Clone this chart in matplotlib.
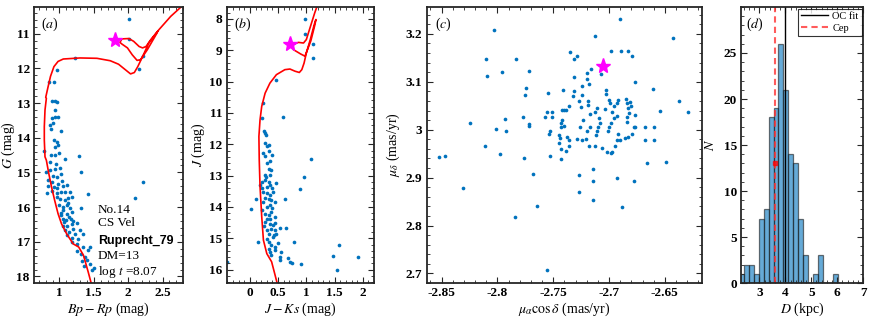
import matplotlib
matplotlib.use("Agg")
import matplotlib.pyplot as plt
from matplotlib.ticker import AutoMinorLocator

plt.rcParams['font.family'] = ['Liberation Serif', 'DejaVu Serif']
plt.rcParams['mathtext.fontset'] = 'stix'

# ---- panel (a): Gaia CMD ----
a_x = [2.016, 2.016, 2.21, 1.22, 2.16, 0.96, 0.85, 0.92, 0.89, 0.93, 0.97, 0.94,
       0.885, 0.934, 0.983, 0.87, 0.90, 0.875, 1.022, 0.92, 0.958, 0.983, 0.934, 0.777,
       0.875, 0.934, 0.997, 1.08, 1.29, 0.81, 0.87, 0.934, 1.007, 1.31, 0.836, 0.90,
       0.958, 1.03, 0.836, 0.92, 0.983, 1.056, 1.105, 0.82, 0.885, 0.958, 1.03, 1.08,
       1.154, 0.958, 1.007, 1.08, 1.13, 1.18, 1.423, 2.21, 2.10, 0.998, 1.056, 1.105,
       1.154, 1.03, 1.056, 1.115, 1.18, 1.31, 1.056, 1.095, 1.145, 1.20, 1.056, 1.115,
       1.18, 1.25, 1.08, 1.145, 1.20, 1.30, 1.115, 1.18, 1.277, 1.35, 1.18, 1.25,
       1.35, 1.438, 1.25, 1.31, 1.374, 1.423, 1.325, 1.40, 1.448, 1.36, 1.472, 1.497,
       0.86, 0.95, 1.04, 0.89, 1.12, 1.02, 1.17, 1.22, 1.06, 0.97]
a_y = [10.58, 11.15, 11.64, 11.71, 12.01, 12.06, 12.39, 12.39, 12.94, 12.94, 12.97, 13.20,
       13.44, 13.39, 13.41, 13.63, 13.58, 13.76, 13.80, 14.07, 14.11, 14.21, 14.26, 14.37,
       14.50, 14.50, 14.45, 14.60, 14.53, 14.98, 14.93, 14.91, 14.86, 14.98, 15.21, 15.11,
       15.13, 15.05, 15.40, 15.42, 15.32, 15.40, 15.37, 15.59, 15.54, 15.59, 15.56, 15.56,
       15.56, 15.71, 15.78, 15.80, 15.73, 15.71, 15.61, 15.29, 15.73, 15.95, 16.00, 15.93,
       16.02, 16.17, 16.09, 16.21, 16.14, 16.02, 16.33, 16.38, 16.28, 16.40, 16.53, 16.55,
       16.50, 16.46, 16.67, 16.72, 16.63, 16.67, 16.81, 16.88, 16.91, 16.77, 17.00, 17.05,
       17.15, 17.15, 17.27, 17.34, 17.44, 17.25, 17.54, 17.52, 17.63, 17.71, 17.81, 17.75,
       14.70, 14.75, 15.25, 15.27, 15.88, 16.22, 16.33, 16.77, 16.42, 15.45]

iso_a_x = [1.47, 1.42, 1.35, 1.28, 1.20, 1.105, 1.03, 0.98, 0.93, 0.885, 0.845, 0.81,
           0.79, 0.78, 0.78, 0.79, 0.81, 0.80, 0.836, 0.87, 0.92, 0.98, 1.056, 1.30,
           1.546, 1.74, 1.86, 1.96, 2.035, 2.09, 2.14, 2.21, 2.30, 2.43,
           2.42, 2.28, 2.18, 2.13, 2.06, 1.99, 1.91, 1.88,
           1.91, 2.01, 2.08, 2.16, 2.21, 2.26, 2.33, 2.45, 2.62, 2.77, 2.84]
iso_a_y = [18.25, 17.88, 17.39, 17.15, 17.06, 16.77, 16.48, 16.19, 15.80, 15.42, 15.03, 14.65,
           14.55, 14.07, 13.68, 13.20, 12.86, 12.84, 12.52, 12.23, 11.95, 11.80, 11.73, 11.70,
           11.71, 11.78, 11.88, 12.04, 12.16, 12.12, 11.95, 11.66, 11.27, 10.93,
           10.98, 11.46, 11.75, 11.77, 11.61, 11.41, 11.30, 11.25,
           11.15, 11.14, 11.22, 11.37, 11.41, 11.37, 11.17, 10.88, 10.50, 10.23, 10.12]
star_a = (1.815, 11.17)

# ---- panel (b): 2MASS CMD ----
b_x = [0.98, 0.97, 1.12, 1.11, 0.46, 0.24, 0.59, 0.21, 0.25, 0.27, 0.28, 0.27, 0.33, 0.30,
       0.24, 0.33, 0.40, 1.08, 0.27, 0.36, 0.30, 0.33, 0.38, 0.27, 0.36, 0.96, 0.47, 0.21,
       0.27, 0.33, 0.36, 0.18, 0.30, 0.21, 0.89, 0.24, 0.30, 0.36, 0.41, 0.27, 0.33, 0.10,
       0.62, 0.38, 0.44, 0.36, 0.30, 0.24, 0.40, 0.02, 0.21, 0.27, 0.33, 0.38, 0.44, 0.30,
       0.27, 0.36, 0.41, 0.38, 0.44, 0.30, 0.64, 0.53, 0.33, 0.41, 0.47, 0.30, 0.14, 0.78,
       0.33, 0.38, 0.44, 0.33, 0.36, 0.44, 0.53, 0.38, 0.53, 0.68, 0.71, 0.74, 0.91, 1.57,
       1.47, 1.92, 1.54, -0.41, 0.25, 0.35, 0.42, 0.50, 0.28, 0.45, 0.39, 0.56]
b_y = [8.00, 8.48, 8.80, 9.25, 9.96, 10.69, 11.14, 11.17, 11.59, 11.65, 11.70, 11.97, 12.02,
       12.07, 12.29, 12.23, 12.34, 12.48, 12.39, 12.55, 12.61, 12.80, 12.82, 12.98, 12.98,
       13.06, 13.25, 13.19, 13.14, 13.19, 13.30, 13.30, 13.35, 13.41, 13.44, 13.51, 13.57,
       13.62, 13.51, 13.73, 13.76, 13.76, 13.75, 13.78, 13.83, 13.94, 13.99, 13.83, 14.05,
       14.08, 14.10, 14.21, 14.26, 14.15, 14.31, 14.37, 14.47, 14.53, 14.58, 14.69, 14.74,
       14.74, 14.66, 14.67, 14.85, 14.95, 14.85, 15.01, 15.13, 15.13, 15.11, 15.22, 15.27,
       15.33, 15.43, 15.38, 15.60, 15.54, 15.70, 15.62, 15.75, 15.80, 15.81, 15.20, 15.56,
       15.60, 16.00, 15.76, 14.60, 14.40, 14.90, 15.15, 13.05, 14.50, 13.40, 15.45]

iso_b_x = [0.50, 0.44, 0.385, 0.30, 0.24, 0.21, 0.18, 0.166, 0.16, 0.18, 0.21, 0.27, 0.355,
           0.47, 0.62, 0.71, 0.80, 0.876, 0.92, 0.96, 1.00, 1.07, 1.14, 1.17,
           1.15, 1.08, 0.976, 0.90, 0.77, 0.76,
           0.86, 0.95, 1.00, 1.08, 1.15, 1.22]
iso_b_y = [16.55, 16.13, 15.75, 15.49, 15.06, 14.31, 13.35, 12.50, 11.75, 11.22, 10.79, 10.37,
           10.05, 9.78, 9.62, 9.60, 9.67, 9.71, 9.62, 9.41, 9.09, 8.66, 8.18, 8.02,
           8.20, 8.70, 9.19, 9.12, 8.98, 8.82,
           8.75, 8.77, 8.66, 8.20, 7.80, 7.45]
star_b = (0.71, 8.80)

# ---- panel (c): proper motions ----
c_x = [-2.690, -2.643, -2.803, -2.713, -2.810, -2.783, -2.735, -2.729, -2.731, -2.698,
       -2.689, -2.683, -2.679, -2.809, -2.796, -2.772, -2.731, -2.720, -2.716, -2.707,
       -2.720, -2.718, -2.677, -2.774, -2.775, -2.755, -2.741, -2.731, -2.732, -2.724,
       -2.724, -2.703, -2.703, -2.661, -2.637, -2.629, -2.654, -2.756, -2.757, -2.751,
       -2.751, -2.742, -2.740, -2.739, -2.736, -2.727, -2.725, -2.719, -2.719, -2.717,
       -2.713, -2.711, -2.704, -2.700, -2.699, -2.696, -2.693, -2.692, -2.685, -2.684,
       -2.681, -2.680, -2.683, -2.682, -2.684, -2.684, -2.677, -2.677, -2.697, -2.693,
       -2.696, -2.698, -2.700, -2.701, -2.709, -2.708, -2.710, -2.711, -2.712, -2.723,
       -2.726, -2.717, -2.720, -2.742, -2.743, -2.743, -2.740, -2.753, -2.754, -2.745,
       -2.744, -2.745, -2.738, -2.736, -2.729, -2.724, -2.721, -2.718, -2.713, -2.706,
       -2.702, -2.698, -2.693, -2.692, -2.695, -2.697, -2.690, -2.686, -2.683, -2.679,
       -2.678, -2.668, -2.668, -2.743, -2.739, -2.736, -2.753, -2.776, -2.798, -2.811,
       -2.801, -2.793, -2.792, -2.825, -2.777, -2.772, -2.772, -2.852, -2.847, -2.831,
       -2.768, -2.765, -2.784, -2.756, -2.727, -2.727, -2.714, -2.714, -2.714, -2.693,
       -2.688, -2.678, -2.666, -2.649, -2.743, -2.660, -2.660]
c_y = [3.231, 3.192, 3.207, 3.196, 3.148, 3.147, 3.163, 3.154, 3.148, 3.165,
       3.164, 3.164, 3.154, 3.111, 3.120, 3.122, 3.110, 3.119, 3.126, 3.117,
       3.105, 3.096, 3.100, 3.087, 3.072, 3.076, 3.083, 3.080, 3.070, 3.091,
       3.072, 3.075, 3.083, 3.084, 3.059, 3.036, 3.039, 3.036, 3.027, 3.036,
       3.026, 3.041, 3.041, 3.041, 3.050, 3.059, 3.048, 3.059, 3.052, 3.033,
       3.037, 3.045, 3.043, 3.062, 3.055, 3.050, 3.055, 3.062, 3.064, 3.055,
       3.057, 3.050, 3.045, 3.034, 3.027, 3.017, 3.031, 3.006, 3.036, 3.029,
       3.024, 3.013, 3.006, 2.997, 3.024, 3.013, 3.005, 2.998, 2.989, 3.020,
       3.006, 3.006, 2.998, 3.020, 3.013, 3.006, 3.008, 2.997, 2.990, 2.988,
       2.983, 2.972, 2.984, 2.979, 2.980, 2.979, 2.980, 2.965, 2.965, 2.961,
       2.954, 2.951, 2.979, 2.990, 2.965, 2.954, 2.979, 2.982, 2.984, 2.992,
       3.005, 3.005, 2.979, 2.960, 2.956, 2.966, 2.945, 2.940, 2.949, 2.967,
       3.001, 3.023, 2.997, 3.014, 3.027, 3.012, 3.008, 2.943, 2.946, 2.878,
       2.907, 2.841, 2.818, 2.708, 2.905, 2.871, 2.919, 2.893, 2.853, 2.899,
       2.839, 2.893, 2.930, 2.933, 2.938, 3.006, 2.979]
star_c = (-2.705, 3.132)

# ---- panel (d): distance histogram ----
bin_edges = [2.215, 2.405, 2.595, 2.785, 2.975, 3.165, 3.355, 3.545, 3.735, 3.925, 4.115,
             4.305, 4.495, 4.685, 4.875, 5.065, 5.255, 5.445, 5.635, 5.825, 6.015]
counts = [1, 2, 2, 1, 7, 8, 18, 19, 26, 21, 14, 13, 7, 3, 0, 1, 3, 0, 0, 1]
d_oc = 3.98
d_cep = 3.59
cep_n = 13

blue = '#0072BD'
fig = plt.figure(figsize=(8.72, 3.17), dpi=100)
ax_a = fig.add_axes([0.039, 0.107, 0.171, 0.871])
ax_b = fig.add_axes([0.260, 0.107, 0.169, 0.871])
ax_c = fig.add_axes([0.4893, 0.107, 0.3154, 0.871])
ax_d = fig.add_axes([0.8498, 0.107, 0.140, 0.871])


def style(ax):
    ax.tick_params(which='both', direction='in', top=True, right=True,
                   labelsize=9.5, pad=3, color='#262626')
    ax.tick_params(which='major', length=4, width=0.8)
    ax.tick_params(which='minor', length=2, width=0.6)
    ax.xaxis.set_minor_locator(AutoMinorLocator())
    ax.yaxis.set_minor_locator(AutoMinorLocator())
    for lab in ax.get_xticklabels() + ax.get_yticklabels():
        lab.set_fontweight('bold')
    for s in ax.spines.values():
        s.set_linewidth(1.3)
        s.set_color('#262626')


# (a)
ax_a.plot(iso_a_x, iso_a_y, color='red', lw=1.2)
ax_a.scatter(a_x, a_y, s=7, color=blue, linewidths=0)
ax_a.plot(*star_a, marker='*', ms=11, color='magenta', mec='magenta')
ax_a.set_xlim(0.63, 2.8)
ax_a.set_ylim(18.19, 10.23)
ax_a.set_xticks([1, 1.5, 2, 2.5])
ax_a.set_xticklabels(['1', '1.5', '2', '2.5'])
ax_a.set_yticks(range(11, 19))
ax_a.set_xlabel(r'$Bp-Rp$ (mag)', fontsize=10, labelpad=1)
ax_a.set_ylabel(r'$G$ (mag)', fontsize=10)
ax_a.yaxis.set_label_coords(-0.115, 0.5)
ax_a.text(0.05, 0.97, r'($a$)', transform=ax_a.transAxes, fontsize=10, va='top')
ax_a.text(1.556, 16.09, 'No.14', fontsize=9.5, va='center')
ax_a.text(1.556, 16.46, 'CS Vel', fontsize=9.5, va='center')
ax_a.text(1.556, 16.98, 'Ruprecht_79', fontsize=9, va='center', fontweight='bold',
          family='Liberation Sans')
ax_a.text(1.556, 17.42, 'DM=13', fontsize=9.5, va='center')
ax_a.text(1.556, 17.88, r'log $t$ =8.07', fontsize=9.5, va='center')
style(ax_a)

# (b)
ax_b.plot(iso_b_x, iso_b_y, color='red', lw=1.2)
ax_b.scatter(b_x, b_y, s=7, color=blue, linewidths=0)
ax_b.plot(*star_b, marker='*', ms=11, color='magenta', mec='magenta')
ax_b.set_xlim(-0.41, 2.2)
ax_b.set_ylim(16.43, 7.62)
ax_b.set_xticks([0, 0.5, 1, 1.5, 2])
ax_b.set_xticklabels(['0', '0.5', '1', '1.5', '2'])
ax_b.set_yticks(range(8, 17))
ax_b.set_xlabel(r'$J-Ks$ (mag)', fontsize=10, labelpad=1)
ax_b.set_ylabel(r'$J$ (mag)', fontsize=10)
ax_b.yaxis.set_label_coords(-0.135, 0.5)
ax_b.text(0.05, 0.97, r'($b$)', transform=ax_b.transAxes, fontsize=10, va='top')
style(ax_b)

# (c)
ax_c.scatter(c_x, c_y, s=7, color=blue, linewidths=0)
ax_c.plot(*star_c, marker='*', ms=11, color='magenta', mec='magenta')
ax_c.set_xlim(-2.8634, -2.617)
ax_c.set_ylim(2.68, 3.256)
ax_c.set_xticks([-2.85, -2.8, -2.75, -2.7, -2.65])
ax_c.set_xticklabels(['-2.85', '-2.8', '-2.75', '-2.7', '-2.65'])
ax_c.set_yticks([2.7, 2.8, 2.9, 3.0, 3.1, 3.2])
ax_c.set_yticklabels(['2.7', '2.8', '2.9', '3', '3.1', '3.2'])
ax_c.set_xlabel(r'$\mu_\alpha\cos\delta$ (mas/yr)', fontsize=10, labelpad=1)
ax_c.set_ylabel(r'$\mu_\delta$ (mas/yr)', fontsize=10)
ax_c.yaxis.set_label_coords(-0.088, 0.5)
ax_c.text(0.03, 0.97, r'($c$)', transform=ax_c.transAxes, fontsize=10, va='top')
style(ax_c)

# (d)
widths = [bin_edges[i + 1] - bin_edges[i] for i in range(len(counts))]
ax_d.bar(bin_edges[:-1], counts, width=widths, align='edge', color=blue, alpha=0.6,
         edgecolor='#1a1a1a', linewidth=0.9)
ax_d.axvline(d_oc, color='k', lw=1.0, label='OC fit')
ax_d.axvline(d_cep, color='#ff3333', lw=1.5, ls=(0, (3, 2)), alpha=0.8, label='Cep')
ax_d.plot(d_cep, cep_n, marker='s', ms=3, color='red', alpha=0.7)
ax_d.set_xlim(2.29, 7)
ax_d.set_ylim(0, 30)
ax_d.set_xticks([3, 4, 5, 6, 7])
ax_d.set_yticks([0, 5, 10, 15, 20, 25])
ax_d.set_xlabel(r'$D$ (kpc)', fontsize=10, labelpad=1)
ax_d.set_ylabel(r'$N$', fontsize=10)
ax_d.yaxis.set_label_coords(-0.2, 0.5)
ax_d.text(0.04, 0.97, r'($d$)', transform=ax_d.transAxes, fontsize=10, va='top')
leg = ax_d.legend(loc='upper right', fontsize=7.5, frameon=True, fancybox=False,
                  borderpad=0.3, labelspacing=0.25, handlelength=2.6, handletextpad=0.4,
                  borderaxespad=0.15)
leg.get_frame().set_edgecolor('k')
leg.get_frame().set_linewidth(0.8)
style(ax_d)

fig.savefig('out.png', dpi=100)
